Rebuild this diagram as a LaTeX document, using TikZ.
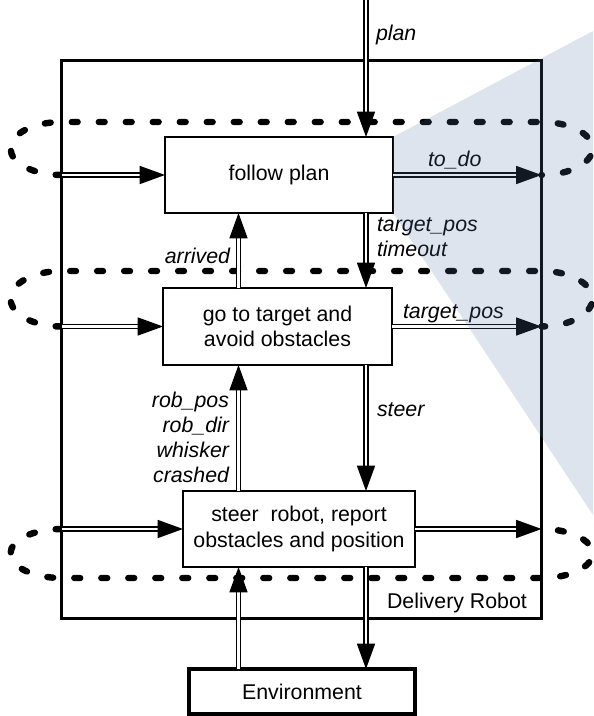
\documentclass[tikz,border=0pt]{standalone}
\usepackage{fontspec}
\setmainfont{Liberation Sans}
\usetikzlibrary{arrows.meta}
\definecolor{shadeblue}{RGB}{90,120,170}
\begin{document}
\begin{tikzpicture}[x=0.75pt,y=-0.75pt,
  font=\fontsize{16pt}{19pt}\selectfont,
  every node/.style={outer sep=0pt},
  module/.style={draw, line width=1.1pt, fill=white, inner sep=0pt, align=center},
  dbl/.style={draw, line width=1.1pt, double distance=2.2pt, -{Triangle[length=19pt,width=13.5pt]}},
  dots/.style={line width=4.8pt, line cap=round, dash pattern=on 4.4pt off 15.85pt},
  lbl/.style={font=\fontsize{16pt}{19pt}\selectfont\itshape, inner sep=0pt}
]
\useasboundingbox (0,0) rectangle (593,716);

% outer box
\node[draw, line width=2.25pt, minimum width=360pt, minimum height=418.35pt, inner sep=0pt] (robot) at (301.5,339.6) {};
\node[anchor=base west, inner sep=0pt] (robotlbl) at (387,608) {Delivery Robot};

% modules
\node[module, minimum width=171pt, minimum height=57pt] (fp) at (279,175) {follow plan};
\node[module, minimum width=171.75pt, minimum height=57.75pt] (gt) at (277.5,326.5) {go to target and\\avoid obstacles};
\node[module, minimum width=174pt, minimum height=57pt] (sr) at (299,529) {steer\ \ robot, report\\obstacles and position};
\node[draw, line width=2.6pt, minimum width=169.5pt, minimum height=33.75pt, inner sep=0pt] (env) at (302,691.5) {Environment};

% dotted loops
\draw[dots] (61.5,175) arc[start angle=-90, end angle=-270, x radius=38.25pt, y radius=19.875pt]
  -- (541.5,122) arc[start angle=90, end angle=-90, x radius=38.25pt, y radius=19.875pt];
\draw[dots] (61.5,326.5) arc[start angle=-90, end angle=-270, x radius=38.25pt, y radius=20.8pt]
  -- (541.5,271) arc[start angle=90, end angle=-90, x radius=38.25pt, y radius=20.8pt];
\draw[dots] (61.5,529) arc[start angle=90, end angle=270, x radius=38.25pt, y radius=18.375pt]
  -- (541.5,578) arc[start angle=-90, end angle=90, x radius=38.25pt, y radius=18.375pt];

% columns
\coordinate (cR) at (366,0);
\coordinate (cL) at (238.5,0);

% arrows
\draw[dbl] (cR) -- (cR |- fp.north);
\draw[dbl] (robot.west |- fp.west) -- (fp.west);
\draw[dbl] (fp.east) -- (fp.east -| robot.east);
\draw[dbl] (cR |- fp.south) -- (cR |- gt.north);
\draw[dbl] (cL |- gt.north) -- (cL |- fp.south);
\draw[dbl] (robot.west |- gt.west) -- (gt.west);
\draw[dbl] (gt.east) -- (gt.east -| robot.east);
\draw[dbl] (cR |- gt.south) -- (cR |- sr.north);
\draw[dbl] (cL |- sr.north) -- (cL |- gt.south);
\draw[dbl] (robot.west |- sr.west) -- (sr.west);
\draw[dbl] (sr.east) -- (sr.east -| robot.east);
\draw[dbl] (cL |- env.north) -- (cL |- sr.south);
\draw[dbl] (cR |- sr.south) -- (cR |- env.north);

% labels
\node[lbl, anchor=base west] (lplan) at (376,41) {plan};
\node[lbl, anchor=base west] (ltodo) at (428,167) {to\_do};
\node[lbl, anchor=base west] (ltp1) at (377,232) {target\_pos};
\node[lbl, anchor=base west] (ltp2) at (377,257) {timeout};
\node[lbl, anchor=base east] (larr) at (230,263) {arrived};
\node[lbl, anchor=base west] (ltp3) at (403,318) {target\_pos};
\node[lbl, anchor=base west] (lsteer) at (377,416) {steer};
\node[lbl, anchor=base east] (lr1) at (229,407) {rob\_pos};
\node[lbl, anchor=base east] (lr2) at (229,432) {rob\_dir};
\node[lbl, anchor=base east] (lr3) at (229,457) {whisker};
\node[lbl, anchor=base east] (lr4) at (229,482) {crashed};

% translucent overlay
\fill[shadeblue, fill opacity=0.2] (fp.north east) -- (593,31) -- (593,515) -- (fp.south east) -- cycle;
\end{tikzpicture}
\end{document}
